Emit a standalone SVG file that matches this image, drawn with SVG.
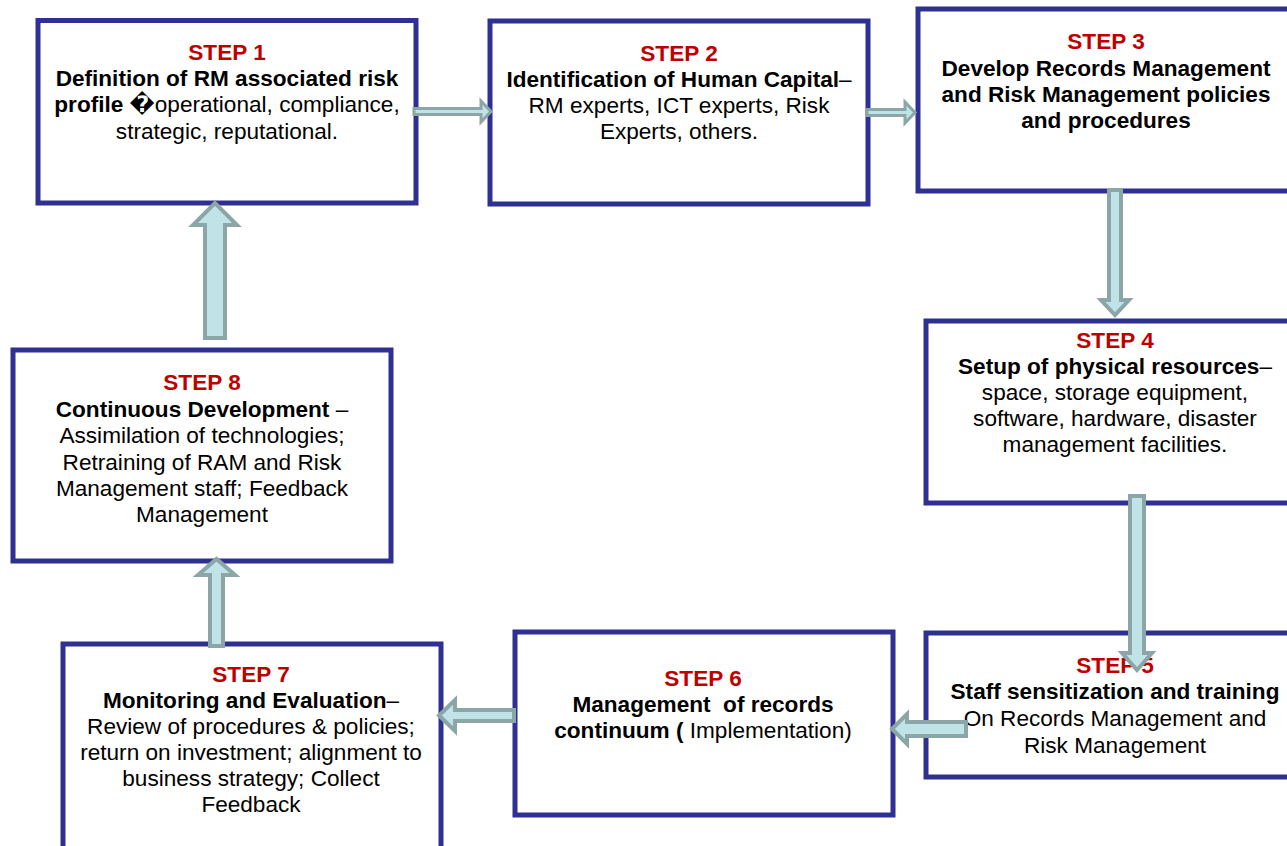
<svg xmlns="http://www.w3.org/2000/svg" width="1287" height="846" viewBox="0 0 1287 846">
<style>
.box{fill:#fff;stroke:#2E3092;stroke-width:5}
.arr{fill:#BFE3E7;stroke:#8CA6A7;stroke-width:4;stroke-linejoin:miter}
.thin{stroke-width:3}
text{font-family:"Liberation Sans",Arial,"DejaVu Sans",sans-serif;font-size:22.6px;fill:#000;text-anchor:middle}
.st{fill:#C00000;font-weight:bold}
.b{font-weight:bold}
</style>
<rect width="1287" height="846" fill="#fff"/>
<g id="step1">
<rect class="box" x="38" y="20.5" width="378" height="182.5"/>
<text x="227" y="60" class="st">STEP 1</text>
<text x="227" y="86" class="b">Definition of RM associated risk</text>
<text x="227" y="112"><tspan class="b">profile �</tspan>operational, compliance,</text>
<text x="227" y="139">strategic, reputational.</text>
</g>
<g id="step2">
<rect class="box" x="490" y="21" width="378" height="183"/>
<text x="679" y="61" class="st">STEP 2</text>
<text x="679" y="87"><tspan class="b">Identification of Human Capital</tspan>–</text>
<text x="679" y="113">RM experts, ICT experts, Risk</text>
<text x="679" y="139">Experts, others.</text>
</g>
<g id="step3">
<rect class="box" x="918" y="9" width="378" height="182"/>
<text x="1106" y="49" class="st">STEP 3</text>
<text x="1106" y="76" class="b">Develop Records Management</text>
<text x="1106" y="102" class="b">and Risk Management policies</text>
<text x="1106" y="128" class="b">and procedures</text>
</g>
<g id="step4">
<rect class="box" x="926" y="321" width="378" height="182"/>
<text x="1115" y="348" class="st">STEP 4</text>
<text x="1115" y="374"><tspan class="b">Setup of physical resources</tspan>–</text>
<text x="1115" y="400">space, storage equipment,</text>
<text x="1115" y="426">software, hardware, disaster</text>
<text x="1115" y="452">management facilities.</text>
</g>
<g id="step5">
<rect class="box" x="926" y="633" width="378" height="144"/>
<text x="1115" y="673" class="st">STEP 5</text>
<text x="1115" y="699" class="b">Staff sensitization and training</text>
<text x="1115" y="726">On Records Management and</text>
<text x="1115" y="753">Risk Management</text>
</g>
<g id="step6">
<rect class="box" x="515" y="632" width="378" height="183"/>
<text x="703" y="686" class="st">STEP 6</text>
<text x="703" y="712" class="b" xml:space="preserve">Management  of records</text>
<text x="703" y="738"><tspan class="b">continuum ( </tspan>Implementation)</text>
</g>
<g id="step7">
<rect class="box" x="63" y="644" width="378" height="215"/>
<text x="251" y="682" class="st">STEP 7</text>
<text x="251" y="708"><tspan class="b">Monitoring and Evaluation</tspan>–</text>
<text x="251" y="734">Review of procedures &amp; policies;</text>
<text x="251" y="760">return on investment; alignment to</text>
<text x="251" y="786">business strategy; Collect</text>
<text x="251" y="812">Feedback</text>
</g>
<g id="step8">
<rect class="box" x="13" y="350" width="378" height="211"/>
<text x="202" y="390" class="st">STEP 8</text>
<text x="202" y="417"><tspan class="b">Continuous Development</tspan> –</text>
<text x="202" y="443">Assimilation of technologies;</text>
<text x="202" y="470">Retraining of RAM and Risk</text>
<text x="202" y="496">Management staff; Feedback</text>
<text x="202" y="522">Management</text>
</g>
<g id="connectors">
<polygon class="arr thin" points="414,108.5 481,108.5 481,101 491,111.5 481,122 481,114.5 414,114.5"/>
<polygon class="arr thin" points="867,109.5 905,109.5 905,102 915,112.5 905,123 905,115.5 867,115.5"/>
<polygon class="arr" points="1109,190 1121,190 1121,300 1129,300 1115,315 1101,300 1109,300"/>
<polygon class="arr" points="1130,496 1144,496 1144,653 1152,653 1137,670 1122,653 1130,653"/>
<polygon class="arr" points="966,722 907,722 907,714 892,729 907,744 907,736 966,736"/>
<polygon class="arr" points="514,710 455,710 455,700 439,715.5 455,731 455,721 514,721"/>
<polygon class="arr" points="210,646 210,575 198,575 216.5,559 235,575 223,575 223,646"/>
<polygon class="arr" points="205,338 205,225 193,225 215,203 237,225 225,225 225,338"/>
</g>
</svg>
